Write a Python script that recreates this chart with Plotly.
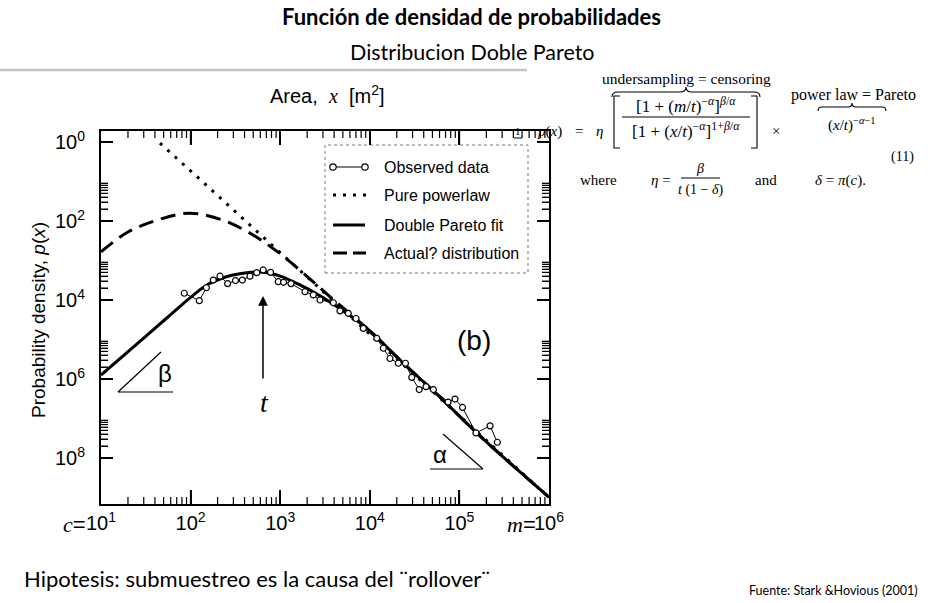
import plotly.graph_objects as go

# ---------------- data ----------------
obs_area = [85, 125, 150, 179, 213, 259, 317, 378, 460, 547, 646, 780, 951, 1090, 1320,
            1890, 2340, 2780, 3920, 4650, 5750, 7020, 8460, 11960, 14150, 16800, 20800,
            25000, 29400, 35600, 42400, 51200, 74700, 89300, 108400, 153000, 220000, 265000]
obs_density = [1.48e-4, 9.6e-5, 2.04e-4, 3.2e-4, 4.0e-4, 2.6e-4, 3.1e-4, 3.2e-4, 4.0e-4,
               4.9e-4, 5.75e-4, 5.0e-4, 2.9e-4, 2.8e-4, 2.6e-4, 1.62e-4, 1.34e-4, 1.0e-4,
               8.5e-5, 5.3e-5, 4.6e-5, 3.4e-5, 1.9e-5, 1.07e-5, 6.0e-6, 3.3e-6, 2.5e-6,
               2.5e-6, 1.1e-6, 5.4e-7, 6.4e-7, 5.4e-7, 2.6e-7, 3.1e-7, 1.9e-7, 4.3e-8,
               6.5e-8, 2.5e-8]

fit_area = [10, 22.75, 54.6, 100, 152, 224, 297, 420, 596, 800, 1074, 1500, 2153, 3882,
            9311, 21730, 60670, 157000, 367300, 1e6]
fit_density = [1.26e-6, 6.3e-6, 3.55e-5, 1.17e-4, 2.40e-4, 3.55e-4, 4.27e-4, 4.9e-4,
               5.13e-4, 4.68e-4, 3.80e-4, 2.69e-4, 1.78e-4, 7.94e-5, 1.91e-5, 3.02e-6,
               3.47e-7, 4.27e-8, 7.41e-9, 1.02e-9]

actual_area = [10, 20, 43.3, 98.4, 224, 438, 875, 1750, 3600, 9311, 21730, 60670, 157000,
               367300, 1e6]
actual_density = [1.66e-3, 5.25e-3, 1.07e-2, 1.58e-2, 1.07e-2, 5.25e-3, 1.86e-3, 5.13e-4,
                  1.2e-4, 1.91e-5, 3.02e-6, 3.47e-7, 4.27e-8, 7.41e-9, 1.02e-9]

powerlaw_area = [45.5, 297, 1750, 1e6]
powerlaw_density = [0.94, 1.9e-2, 5.0e-4, 1.0e-9]

x_tick_vals = [1e1, 1e2, 1e3, 1e4, 1e5, 1e6]
x_tick_text = ["10<sup>1</sup>", "10<sup>2</sup>", "10<sup>3</sup>", "10<sup>4</sup>",
               "10<sup>5</sup>", "10<sup>6</sup>"]
y_tick_vals = [1, 1e-2, 1e-4, 1e-6, 1e-8]
y_tick_text = ["10<sup>0</sup>", "10<sup>2</sup>", "10<sup>4</sup>", "10<sup>6</sup>",
               "10<sup>8</sup>"]
x_minor = [float(m * 10 ** k) for k in range(1, 6) for m in range(2, 10)]
y_minor = [m * 10.0 ** (-k) for k in (2, 4, 6, 8) for m in range(2, 10)]

legend_labels = ["Observed data", "Pure powerlaw", "Double Pareto fit", "Actual? distribution"]

# ---------------- layout helpers (pixel -> paper) ----------------
W, H = 932, 603
L, R, T, B = 101, 549, 131, 504
SANS = "Liberation Sans, Arial, sans-serif"
SERIF = "Liberation Serif, Times New Roman, serif"
SLIDE = "Lato, Open Sans, sans-serif"


def px(x):
    return (x - L) / (R - L)


def py(y):
    return (B - y) / (B - T)


def ann(text, x, y, size, family=SANS, xanchor="center", yanchor="middle", **kw):
    return dict(text=text, x=px(x), y=py(y), xref="paper", yref="paper", showarrow=False,
                xanchor=xanchor, yanchor=yanchor,
                font=dict(size=size, family=family, color="black"), **kw)


def line(x0, y0, x1, y1, width=1.2, color="black", dash="solid"):
    return dict(type="line", xref="paper", yref="paper", x0=px(x0), y0=py(y0),
                x1=px(x1), y1=py(y1), line=dict(color=color, width=width, dash=dash))


def path(cmds, width=1.1):
    s = ""
    for c in cmds:
        op, pts = c[0], c[1:]
        s += op + " " + " ".join(f"{px(pts[i]):.5f},{py(pts[i + 1]):.5f}"
                                 for i in range(0, len(pts), 2)) + " "
    return dict(type="path", xref="paper", yref="paper", path=s.strip(),
                line=dict(color="black", width=width))


def circle(cx, cy, r=3.2):
    return dict(type="circle", xref="paper", yref="paper", x0=px(cx - r), x1=px(cx + r),
                y0=py(cy + r), y1=py(cy - r), line=dict(color="black", width=1.2),
                fillcolor="white")


def xtick(v, length, width):
    """inside tick on the bottom and the mirrored top edge, placed by the x axis"""
    h = length / (B - T)
    return [dict(type="line", xref="x", yref="paper", x0=v, x1=v, y0=0, y1=h,
                 line=dict(color="black", width=width)),
            dict(type="line", xref="x", yref="paper", x0=v, x1=v, y0=1, y1=1 - h,
                 line=dict(color="black", width=width))]


def ytick(v, length, width):
    """inside tick on the left and the mirrored right edge, placed by the y axis"""
    w = length / (R - L)
    return [dict(type="line", xref="paper", yref="y", x0=0, x1=w, y0=v, y1=v,
                 line=dict(color="black", width=width)),
            dict(type="line", xref="paper", yref="y", x0=1, x1=1 - w, y0=v, y1=v,
                 line=dict(color="black", width=width))]


fig = go.Figure()

fig.add_trace(go.Scatter(x=powerlaw_area, y=powerlaw_density, mode="lines",
                         line=dict(color="black", width=3, dash="3px,7px"),
                         showlegend=False, name=legend_labels[1]))
fig.add_trace(go.Scatter(x=actual_area, y=actual_density, mode="lines", line_shape="spline",
                         line=dict(color="black", width=3, dash="15px,8px"),
                         showlegend=False, name=legend_labels[3]))
fig.add_trace(go.Scatter(x=fit_area, y=fit_density, mode="lines", line_shape="spline",
                         line=dict(color="black", width=3),
                         showlegend=False, name=legend_labels[2]))
fig.add_trace(go.Scatter(x=obs_area, y=obs_density, mode="lines+markers",
                         line=dict(color="black", width=1),
                         marker=dict(symbol="circle", size=6, color="white",
                                     line=dict(color="black", width=1.2)),
                         showlegend=False, name=legend_labels[0]))

fig.update_layout(
    xaxis=dict(type="log", range=[1, 6], tickmode="array", tickvals=x_tick_vals,
               ticktext=x_tick_text, ticks="inside", ticklen=14, tickwidth=1.5,
               tickcolor="black", showline=True, linewidth=2, linecolor="black",
               mirror="ticks", showgrid=False, zeroline=False,
               tickfont=dict(family=SANS, size=20, color="black")),
    yaxis=dict(type="log", range=[-9.165, 0.278], tickmode="array", tickvals=y_tick_vals,
               ticktext=y_tick_text, ticks="inside", ticklen=12, tickwidth=1.5,
               tickcolor="black", showline=True, linewidth=2, linecolor="black",
               mirror="ticks", showgrid=False, zeroline=False, ticklabelstandoff=10,
               tickfont=dict(family=SANS, size=20, color="black"),
               minor=dict(tickmode="array", tickvals=y_minor, ticks="inside", ticklen=7,
                          tickwidth=1.2, tickcolor="black")),
)

annotations = [
    # slide texts
    ann("<b>Función de densidad de probabilidades</b>", 471, 16, 22, SLIDE),
    ann("Distribucion Doble Pareto", 472, 52, 21.5, SLIDE),
    ann("Hipotesis: submuestreo es la causa del ¨rollover¨", 22, 578, 22, SLIDE, xanchor="left"),
    ann("Fuente: Stark &Hovious (2001)", 920, 590, 12.5, SLIDE, xanchor="right"),
    # chart titles
    ann("Area,  <span style='font-family:Liberation Serif'><i>x</i></span>  [m<sup>2</sup>]",
        327, 95, 20),
    ann("Probability density, <i>p</i>(<i>x</i>)", 38, 320, 19, textangle=-90),
    ann("<span style='font-family:Liberation Serif'><i>c</i></span>=", 88, 524, 22,
        xanchor="right"),
    ann("<span style='font-family:Liberation Serif'><i>m</i></span>=", 538, 524, 22,
        xanchor="right"),
    # inside plot
    ann("(b)", 474, 340, 28),
    ann("β", 165, 373, 24),
    ann("α", 440, 454, 24),
    ann("<i>t</i>", 264, 402, 28, SERIF),
    # legend texts
    ann(legend_labels[0], 382, 167, 16, xanchor="left"),
    ann(legend_labels[1], 382, 195, 16, xanchor="left"),
    ann(legend_labels[2], 382, 225, 16, xanchor="left"),
    ann(legend_labels[3], 382, 253, 16, xanchor="left"),
    # equation
    ann("1", 518, 131, 11, SERIF),
    ann("undersampling = censoring", 686, 79, 15.5, SERIF),
    ann("[1 + (<i>m</i>/<i>t</i>)<sup>−<i>α</i></sup>]<sup><i>β</i>/<i>α</i></sup>",
        686, 105, 17, SERIF),
    ann("[1 + (<i>x</i>/<i>t</i>)<sup>−<i>α</i></sup>]<sup>1+<i>β</i>/<i>α</i></sup>",
        686, 130, 17, SERIF),
    ann("<i>p</i>(<i>x</i>)", 549, 131, 15, SERIF),
    ann("=", 579, 131, 15, SERIF),
    ann("<i>η</i>", 599, 131, 15, SERIF),
    ann("×", 776, 131, 15, SERIF),
    ann("power law = Pareto", 853, 95, 16, SERIF),
    ann("(<i>x</i>/<i>t</i>)<sup>−<i>α</i>−1</sup>", 852, 124, 15, SERIF),
    ann("(11)", 902, 157, 14, SERIF),
    ann("where", 598, 180, 15, SERIF),
    ann("<i>η</i> =", 661, 180, 15, SERIF),
    ann("<i>β</i>", 700, 168, 14, SERIF),
    ann("<i>t</i> (1 − <i>δ</i>)", 700, 190, 14, SERIF),
    ann("and", 766, 180, 15, SERIF),
    ann("<i>δ</i> = <i>π</i>(<i>c</i>).", 840, 180, 15, SERIF),
]

# arrow pointing at t
annotations.append(dict(text="", x=px(263), y=py(296), xref="paper", yref="paper",
                        showarrow=True, ax=0, ay=84, arrowhead=2, arrowsize=1.3,
                        arrowwidth=1.5, arrowcolor="black"))

shapes = [
    # slide separator
    line(0, 70, 527, 70, width=2.5, color="#c4c4c4"),
    # legend box
    dict(type="rect", xref="paper", yref="paper", x0=px(325), x1=px(528), y0=py(273),
         y1=py(145), line=dict(color="#777777", width=1, dash="dot")),
    # legend symbols
    line(333, 167, 365, 167, width=1),
    circle(333, 167), circle(365, 167),
    line(333, 195, 367, 195, width=3, dash="3px,7px"),
    line(333, 225, 365, 225, width=3),
    line(333, 253, 366, 253, width=3, dash="14px,6px"),
    # slope triangles
    line(118, 392, 173, 392), line(118, 392, 161, 352),
    line(430, 469, 483, 469), line(443, 434, 483, 469),
    # equation decorations
    path([("M", 612, 97), ("Q", 612, 92, 618, 92), ("L", 680, 92), ("Q", 686, 92, 686, 87),
          ("Q", 686, 92, 692, 92), ("L", 754, 92), ("Q", 760, 92, 760, 97)]),
    path([("M", 818, 111), ("Q", 818, 107, 822, 107), ("L", 848, 107),
          ("Q", 852, 107, 852, 103), ("Q", 852, 107, 856, 107), ("L", 882, 107),
          ("Q", 886, 107, 886, 111)]),
    path([("M", 620, 96), ("L", 614, 96), ("L", 614, 148), ("L", 620, 148)]),
    path([("M", 751, 96), ("L", 757, 96), ("L", 757, 148), ("L", 751, 148)]),
    line(622, 117, 750, 117, width=1),
    line(681, 178, 720, 178, width=1),
    line(514, 138, 522, 138, width=1),
]

# frame ticks (major + minor) on all four sides, positioned by the axes
for v in x_tick_vals[1:-1]:
    shapes += xtick(v, 14, 1.5)
for v in x_minor:
    shapes += xtick(v, 7, 1.2)
for v in y_tick_vals:
    shapes += ytick(v, 12, 1.5)
for v in y_minor:
    shapes += ytick(v, 7, 1.2)

fig.update_layout(width=W, height=H, margin=dict(l=L, r=W - R, t=T, b=H - B, pad=0),
                  paper_bgcolor="white", plot_bgcolor="white", showlegend=False,
                  font=dict(family=SANS, size=16, color="black"),
                  annotations=annotations, shapes=shapes)

fig.write_html("out.html", config={"displayModeBar": False},
               post_script="document.body.style.margin='0px';")
